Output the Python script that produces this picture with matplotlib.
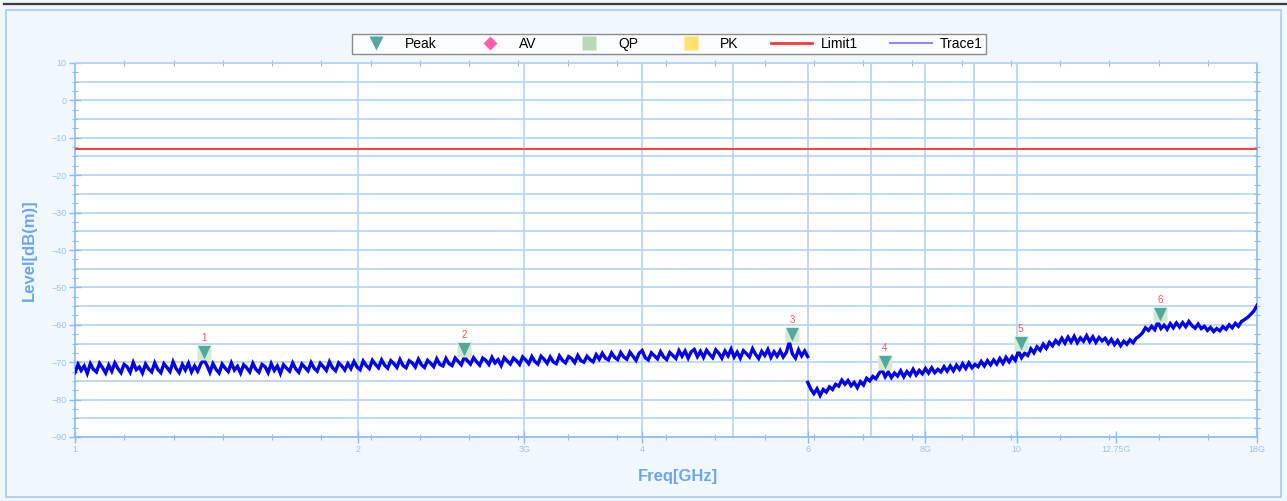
import numpy as np
import matplotlib
matplotlib.use('Agg')
import matplotlib.pyplot as plt
from matplotlib.lines import Line2D
from matplotlib.patches import Rectangle
from matplotlib.path import Path
import matplotlib.ticker as mticker

plt.rcParams['font.family'] = ['Liberation Sans', 'DejaVu Sans']

# ---------------- data ----------------
seg1_start_ghz = 1.0
seg1_stop_ghz = 6.0
seg1_levels = [
    -72.8, -70.6, -72.2, -71.0, -73.0, -70.4, -71.9, -72.6, -70.3, -71.5, -72.9, -70.8,
    -72.4, -70.2, -71.7, -72.8, -70.6, -71.2, -72.7, -70.1, -72.0, -71.3, -72.9, -70.5,
    -71.8, -72.6, -70.2, -71.9, -72.8, -70.4, -71.4, -72.5, -69.9, -71.7, -72.8, -70.6,
    -72.1, -70.3, -72.6, -71.0, -72.4, -70.5, -69.3, -70.8, -72.7, -70.4, -71.9, -72.9,
    -70.5, -71.6, -72.5, -70.2, -72.1, -71.1, -72.9, -70.7, -71.5, -72.6, -70.3, -71.9,
    -72.7, -70.6, -71.2, -72.8, -70.4, -72.2, -71.0, -73.0, -70.7, -71.6, -72.4, -70.2,
    -71.8, -72.7, -70.5, -71.4, -72.3, -70.1, -71.6, -72.4, -70.3, -71.2, -72.2, -69.9,
    -71.5, -72.3, -70.2, -71.0, -72.1, -70.4, -71.7, -69.8, -71.3, -72.0, -69.7, -70.9,
    -71.7, -69.5, -70.6, -71.5, -69.4, -70.8, -71.6, -69.6, -70.4, -71.4, -69.3, -70.9,
    -71.5, -69.6, -70.2, -71.3, -69.2, -70.7, -71.4, -69.5, -70.3, -71.2, -69.1, -70.6,
    -71.0, -69.0, -70.4, -70.9, -68.9, -69.8, -70.7, -68.6, -69.6, -70.5, -68.8, -69.9,
    -70.8, -68.9, -69.5, -70.6, -68.7, -70.2, -69.3, -70.9, -68.8, -69.7, -70.5, -68.9,
    -69.6, -70.6, -68.6, -69.4, -70.4, -68.5, -69.8, -70.5, -68.4, -69.2, -70.3, -68.6,
    -69.9, -70.4, -68.3, -69.5, -70.2, -68.5, -69.0, -70.1, -68.2, -69.6, -70.0, -68.4,
    -69.3, -69.9, -68.0, -69.2, -67.6, -68.9, -69.4, -67.5, -68.7, -69.3, -67.4, -68.6,
    -69.2, -67.3, -68.4, -69.5, -67.6, -66.9, -68.8, -69.4, -67.5, -68.3, -69.1, -67.2,
    -68.6, -69.3, -67.4, -68.2, -69.0, -66.9, -68.4, -67.0, -68.9, -67.2, -66.6, -68.5,
    -67.1, -68.7, -66.8, -67.9, -68.8, -66.7, -67.6, -68.9, -67.0, -68.3, -66.5, -68.6,
    -67.3, -68.9, -66.9, -67.7, -68.6, -66.4, -67.9, -69.0, -67.1, -68.2, -66.6, -68.7,
    -67.2, -68.4, -66.9, -68.6, -67.4, -64.6, -67.8, -68.9, -66.7, -68.3, -67.0, -68.5,
]
seg2_start_ghz = 6.0
seg2_stop_ghz = 18.0
seg2_levels = [
    -75.4, -77.2, -78.4, -77.1, -78.9, -77.3, -78.0, -76.6, -77.3, -75.9, -76.4, -74.8,
    -75.9, -74.9, -76.3, -75.4, -76.8, -75.2, -76.1, -74.3, -75.0, -73.8, -74.4, -73.0,
    -72.0, -73.9, -72.6, -74.1, -72.9, -73.7, -72.3, -73.9, -72.5, -73.5, -71.9, -73.4,
    -72.2, -73.1, -71.7, -72.9, -71.5, -72.8, -71.9, -72.6, -71.2, -72.4, -71.0, -72.3,
    -70.8, -71.9, -70.4, -71.7, -70.2, -71.5, -70.6, -71.2, -69.8, -71.0, -69.6, -70.7,
    -69.4, -70.5, -69.0, -70.3, -68.7, -69.9, -68.5, -69.5, -67.0, -68.8, -67.6, -68.2,
    -66.4, -67.5, -65.9, -66.8, -65.2, -66.3, -64.7, -65.6, -64.2, -65.1, -63.6, -64.9,
    -63.3, -64.6, -63.1, -64.8, -63.5, -64.4, -62.9, -64.5, -63.2, -64.7, -63.4, -64.3,
    -63.6, -65.0, -63.9, -65.3, -64.2, -65.6, -64.4, -65.2, -64.0, -64.8, -63.6, -63.0,
    -62.2, -60.8, -61.5, -60.4, -61.3, -59.2, -61.0, -60.1, -61.2, -59.7, -60.8, -59.5,
    -60.6, -59.4, -60.5, -59.1, -60.2, -60.9, -59.8, -61.0, -60.4, -61.5, -60.7, -61.8,
    -61.0, -61.6, -60.5, -61.2, -60.0, -60.8, -59.6, -60.4, -59.1, -58.6, -58.0, -57.2,
    -56.3, -54.8,
]
peak_freqs = [1.37, 2.59, 5.78, 7.24, 10.1, 14.2]
peak_levels = [-69.3, -68.6, -64.6, -72.0, -67.0, -59.2]
peak_labels = ['1', '2', '3', '4', '5', '6']
limit1_level = -13.0
x_min, x_max = 1.0, 18.0
y_min, y_max = -90, 10
xtick_vals = [1, 2, 3, 4, 6, 8, 10, 12.75, 18]
xtick_labels = ['1', '2', '3G', '4', '6', '8G', '10', '12.75G', '18G']
x_grid_vals = [2, 3, 4, 5, 6, 7, 8, 9, 10]
ytick_vals = [-90, -80, -70, -60, -50, -40, -30, -20, -10, 0, 10]
y_grid_step = 5
legend_names = ['Peak', 'AV', 'QP', 'PK', 'Limit1', 'Trace1']

# ---------------- styling ----------------
W, H = 1287, 501
fig = plt.figure(figsize=(W / 100, H / 100), dpi=100)
fig.patch.set_facecolor('#f1f7fe')

ax = fig.add_axes([75 / W, 1 - 437 / H, 1182 / W, 374 / H])
ax.set_facecolor('white')
ax.set_xscale('log')
ax.set_xlim(x_min, x_max)
ax.set_ylim(y_min, y_max)

grid_c = '#b3d3f7'
axis_c = '#8dbcf0'
tick_lab_c = '#9cc2ee'

for yv in np.arange(y_min, y_max + 0.1, y_grid_step):
    ax.axhline(yv, color=grid_c, lw=1.2, zorder=1)
for xv in x_grid_vals:
    ax.axvline(xv, color=grid_c, lw=1.2, zorder=1)

# trace
f1 = np.geomspace(seg1_start_ghz, seg1_stop_ghz, len(seg1_levels))
f2 = np.geomspace(seg2_start_ghz, seg2_stop_ghz, len(seg2_levels))
ax.plot(f1, seg1_levels, color='#0000ee', lw=2.4, zorder=3, solid_joinstyle='miter')
ax.plot(f2, seg2_levels, color='#0000ee', lw=2.4, zorder=3, solid_joinstyle='miter')

# limit
ax.axhline(limit1_level, color='#ff3b3b', lw=1.4, zorder=3)

# peak markers (tip at peak)
sq = Path([(-1, 0), (1, 0), (1, 2), (-1, 2), (-1, 0)],
          [Path.MOVETO, Path.LINETO, Path.LINETO, Path.LINETO, Path.CLOSEPOLY])
tri = Path([(-0.8, 1.85), (0.8, 1.85), (0, 0.15), (-0.8, 1.85)],
           [Path.MOVETO, Path.LINETO, Path.LINETO, Path.CLOSEPOLY])
ax.plot(peak_freqs, peak_levels, ls='none', marker=sq, ms=21,
        mfc='#d3e9d0', mec='none', zorder=4)
ax.plot(peak_freqs, peak_levels, ls='none', marker=tri, ms=21,
        mfc='#4fa99f', mec='none', zorder=5)
for fx, lv, lab in zip(peak_freqs, peak_levels, peak_labels):
    ax.annotate(lab, (fx, lv), xytext=(0, 12), textcoords='offset points',
                ha='center', va='bottom', color='#ff5050', fontsize=7, zorder=6)

# ticks
ax.set_xticks(xtick_vals)
ax.set_xticklabels(xtick_labels)
ax.xaxis.set_minor_locator(mticker.FixedLocator([18 ** (k / 24) for k in range(25)]))
ax.xaxis.set_minor_formatter(mticker.NullFormatter())
ax.set_yticks(ytick_vals)
ax.yaxis.set_minor_locator(mticker.MultipleLocator(2.5))
ax.tick_params(axis='both', which='major', direction='inout', length=8, width=1,
               color=axis_c, labelcolor=tick_lab_c, labelsize=6.5, pad=2)
ax.tick_params(axis='both', which='minor', direction='inout', length=4, width=0.8,
               color=axis_c)
ax.tick_params(axis='x', which='both', top=True)
ax.tick_params(axis='y', which='both', right=True)
ax.tick_params(axis='x', which='major', top=False)
ax.tick_params(axis='y', which='major', right=False)

for side in ['left', 'right', 'bottom', 'top']:
    ax.spines[side].set_color(axis_c)
    ax.spines[side].set_linewidth(1.2)
ax.spines['top'].set_color(grid_c)

ax.set_ylabel('Level[dB(m)]', color='#6ca6f2', fontsize=12, fontweight='bold')
ax.yaxis.set_label_coords(-38 / 1182, 0.5)
fig.text(678 / W, 1 - 476 / H, 'Freq[GHz]', color='#6ca6f2', fontsize=12,
         fontweight='bold', ha='center', va='center')

# legend
handles = [
    Line2D([], [], ls='none', marker='v', ms=10, mfc='#4fa99f', mec='none'),
    Line2D([], [], ls='none', marker='D', ms=7, mfc='#ff5cab', mec='none'),
    Line2D([], [], ls='none', marker='s', ms=10, mfc='#b8d9b3', mec='none'),
    Line2D([], [], ls='none', marker='s', ms=10, mfc='#ffe26a', mec='none'),
    Line2D([], [], color='#ff3b3b', lw=2),
    Line2D([], [], color='#8a8aff', lw=1.5),
]
leg = fig.legend(handles, legend_names, loc='center', bbox_to_anchor=(669 / W, 1 - 44 / H),
                 ncol=6, frameon=True, fancybox=False, fontsize=10, handlelength=3.0,
                 columnspacing=2.3, handletextpad=0.6, borderpad=0.25)
leg.get_frame().set_edgecolor('#6f6f6f')
leg.get_frame().set_linewidth(1.0)

# figure frame and top rule
fig.add_artist(Rectangle((6 / W, 1 - 497 / H), (1281 - 6) / W, (497 - 10) / H,
                         transform=fig.transFigure, fill=False, edgecolor='#a6cbf3', lw=1.2))
fig.add_artist(Line2D([4 / W, 1.0], [1 - 4 / H, 1 - 4 / H], transform=fig.transFigure,
                      color='#3c3c3c', lw=1.6))

fig.savefig('out.png', dpi=100, facecolor=fig.get_facecolor())
